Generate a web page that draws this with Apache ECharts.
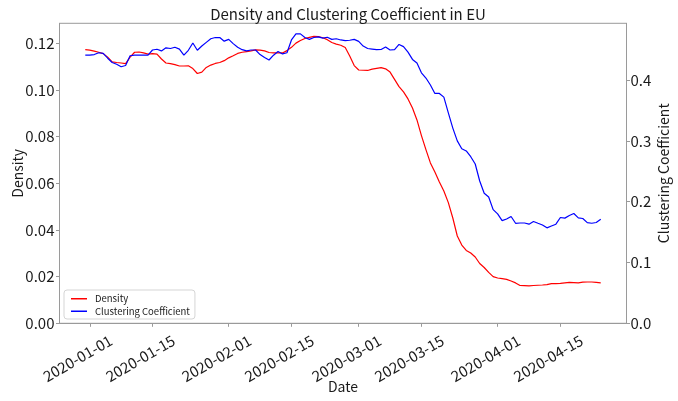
<!DOCTYPE html>
<html>
<head>
<meta charset="utf-8">
<script src="https://cdn.jsdelivr.net/npm/echarts@6/dist/echarts.min.js"></script>
<style>
  html, body { margin: 0; padding: 0; background: #fff; }
  #chart { width: 678px; height: 401px; }
</style>
</head>
<body>
<div id="chart"></div>
<script>
// daily series, first day 2019-12-31
const startDate = "2019-12-31";
const density = [
  0.1172, 0.1170, 0.1166, 0.1161, 0.1155, 0.1140, 0.1120, 0.1117, 0.1115, 0.1112,
  0.1140, 0.1161, 0.1162, 0.1158, 0.1153, 0.1155, 0.1153, 0.1132, 0.1115, 0.1112,
  0.1108, 0.1102, 0.1102, 0.1103, 0.1091, 0.1070, 0.1076, 0.1096, 0.1106, 0.1113,
  0.1117, 0.1125, 0.1137, 0.1146, 0.1156, 0.1161, 0.1164, 0.1167, 0.1171, 0.1170,
  0.1167, 0.1160, 0.1158, 0.1158, 0.1158, 0.1168, 0.1182, 0.1200, 0.1211, 0.1220,
  0.1225, 0.1229, 0.1228, 0.1223, 0.1215, 0.1203, 0.1196, 0.1191, 0.1181, 0.1145,
  0.1104, 0.1085, 0.1084, 0.1083, 0.1089, 0.1092, 0.1095, 0.1090, 0.1076, 0.1045,
  0.1014, 0.0991, 0.0961, 0.0922, 0.0871, 0.0804, 0.0744, 0.0687, 0.0648, 0.0605,
  0.0567, 0.0517, 0.0451, 0.0374, 0.0335, 0.0312, 0.0301, 0.0284, 0.0256, 0.0239,
  0.0218, 0.0200, 0.0194, 0.0191, 0.0188, 0.0181, 0.0173, 0.0162, 0.0161, 0.0160,
  0.0162, 0.0163, 0.0164, 0.0166, 0.0170, 0.0170, 0.0171, 0.0173, 0.0175, 0.0174,
  0.0173, 0.0176, 0.0177, 0.0177, 0.0175, 0.0173
];
const clustering = [
  0.441, 0.441, 0.442, 0.445, 0.444, 0.436, 0.429, 0.426, 0.422, 0.424,
  0.440, 0.441, 0.441, 0.441, 0.441, 0.4495, 0.4507, 0.448, 0.453, 0.452,
  0.454, 0.451, 0.441, 0.449, 0.461, 0.449, 0.456, 0.462, 0.468, 0.470,
  0.470, 0.464, 0.467, 0.460, 0.454, 0.450, 0.448, 0.4495, 0.4495, 0.442,
  0.437, 0.433, 0.441, 0.447, 0.443, 0.445, 0.466, 0.476, 0.476, 0.470,
  0.467, 0.470, 0.471, 0.469, 0.4705, 0.467, 0.468, 0.466, 0.465, 0.4655,
  0.467, 0.4637, 0.456, 0.452, 0.451, 0.450, 0.4503, 0.4544, 0.4495, 0.450,
  0.4586, 0.455, 0.446, 0.434, 0.428, 0.412, 0.4034, 0.392, 0.378, 0.378,
  0.372, 0.346, 0.321, 0.300, 0.287, 0.2834, 0.274, 0.262, 0.234, 0.214,
  0.2077, 0.187, 0.180, 0.1688, 0.1715, 0.1757, 0.1645, 0.165, 0.165, 0.163,
  0.1674, 0.1645, 0.1617, 0.157, 0.160, 0.163, 0.174, 0.173, 0.1773, 0.1806,
  0.1735, 0.1724, 0.1655, 0.1645, 0.1658, 0.171
];
const tickLabels = [
  "2020-01-01", "2020-01-15", "2020-02-01", "2020-02-15",
  "2020-03-01", "2020-03-15", "2020-04-01", "2020-04-15"
];

const DAY = 86400000;
const t0 = Date.parse(startDate);
const dayOf = s => Math.round((Date.parse(s) - t0) / DAY);
const dates = density.map((_, i) => new Date(t0 + i * DAY).toISOString().slice(0, 10));
const tickDays = tickLabels.map(dayOf);
const labelFor = v => {
  const i = tickDays.indexOf(Math.round(v));
  return i >= 0 ? tickLabels[i] : "";
};
const span = dates.length - 1;
const pad = span * 0.05;

const font = "Noto Sans CJK JP";
const ink = "#1a1a1a";
const spine = "#9a9a9a";

const chart = echarts.init(document.getElementById("chart"));
chart.setOption({
  animation: false,
  backgroundColor: "#fff",
  textStyle: { fontFamily: font },
  title: {
    text: "Density and Clustering Coefficient in EU",
    left: 343,
    textAlign: "center",
    top: 2,
    textStyle: { fontFamily: font, fontSize: 15, fontWeight: "normal", color: ink }
  },
  grid: {
    left: 59.5, right: 51.5, top: 23.3, bottom: 77.7,
    outerBoundsMode: "none",
    containLabel: false,
    show: true, borderColor: spine, borderWidth: 1, backgroundColor: "transparent"
  },
  legend: {
    orient: "vertical",
    left: 64,
    top: 290,
    padding: [4, 5, 3, 7],
    itemGap: 3,
    itemWidth: 16,
    itemHeight: 1.5,
    icon: "rect",
    backgroundColor: "rgba(255,255,255,0.8)",
    borderColor: "#d5d5d5",
    borderWidth: 1,
    borderRadius: 3,
    textStyle: { fontFamily: font, fontSize: 9.5, color: ink, padding: [0, 0, 0, 3] },
    data: ["Density", "Clustering Coefficient"]
  },
  xAxis: {
    type: "value",
    min: -pad,
    max: span + pad,
    name: "Date",
    nameLocation: "middle",
    nameGap: 56,
    nameMoveOverlap: false,
    nameTextStyle: { fontFamily: font, fontSize: 14, color: ink },
    axisLine: { show: true, onZero: false, lineStyle: { color: spine } },
    axisTick: { show: true, length: 3.5, customValues: tickDays, lineStyle: { color: spine } },
    axisLabel: {
      customValues: tickDays,
      formatter: labelFor,
      rotate: 30,
      align: "center",
      verticalAlign: "middle",
      padding: [0, 28, 0, 0],
      margin: 28,
      fontSize: 15,
      color: ink
    },
    splitLine: { show: false }
  },
  yAxis: [
    {
      type: "value",
      min: 0,
      max: 0.1285,
      interval: 0.02,
      name: "Density",
      nameLocation: "middle",
      nameRotate: 90,
      nameGap: 35,
      nameMoveOverlap: false,
      nameTextStyle: { fontFamily: font, fontSize: 14, color: ink },
      axisLine: { show: true, onZero: false, lineStyle: { color: spine } },
      axisTick: { show: true, length: 3.5, lineStyle: { color: spine } },
      axisLabel: { formatter: v => v.toFixed(2), fontSize: 15, color: ink, margin: 5, showMaxLabel: false },
      splitLine: { show: false }
    },
    {
      type: "value",
      position: "right",
      min: 0,
      max: 0.4934,
      interval: 0.1,
      name: "Clustering Coefficient",
      nameLocation: "middle",
      nameRotate: 90,
      nameGap: 30,
      nameMoveOverlap: false,
      nameTextStyle: { fontFamily: font, fontSize: 14, color: ink },
      axisLine: { show: true, onZero: false, lineStyle: { color: spine } },
      axisTick: { show: true, length: 3.5, lineStyle: { color: spine } },
      axisLabel: { formatter: v => v.toFixed(1), fontSize: 15, color: ink, margin: 4, showMaxLabel: false },
      splitLine: { show: false }
    }
  ],
  series: [
    {
      name: "Density",
      type: "line",
      yAxisIndex: 0,
      symbol: "none",
      data: density.map((v, i) => [i, v]),
      lineStyle: { color: "#ff0000", width: 1.2 },
      itemStyle: { color: "#ff0000" }
    },
    {
      name: "Clustering Coefficient",
      type: "line",
      yAxisIndex: 1,
      symbol: "none",
      data: clustering.map((v, i) => [i, v]),
      lineStyle: { color: "#0000ff", width: 1.2 },
      itemStyle: { color: "#0000ff" }
    }
  ]
});
</script>
</body>
</html>
